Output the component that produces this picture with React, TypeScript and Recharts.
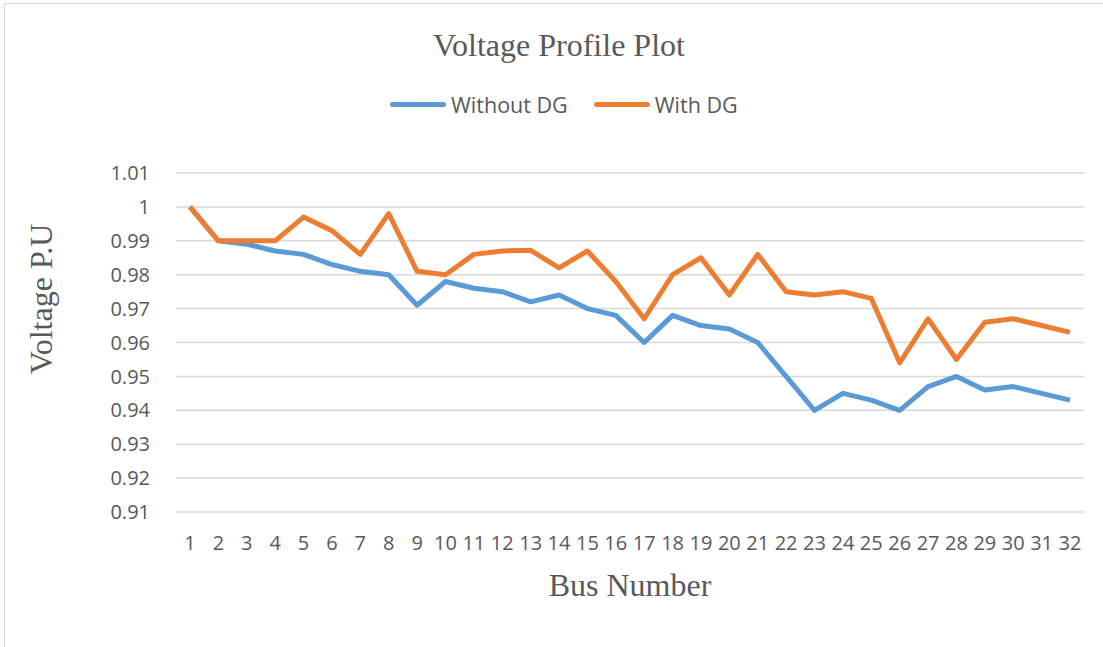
import { LineChart, Line, XAxis, YAxis, CartesianGrid } from 'recharts';

const busNumbers = [
  1, 2, 3, 4, 5, 6, 7, 8, 9, 10, 11, 12, 13, 14, 15, 16,
  17, 18, 19, 20, 21, 22, 23, 24, 25, 26, 27, 28, 29, 30, 31, 32,
];

const withoutDG = [
  1.0, 0.99, 0.989, 0.987, 0.986, 0.983, 0.981, 0.98, 0.971, 0.978, 0.976, 0.975, 0.972, 0.974, 0.97, 0.968,
  0.96, 0.968, 0.965, 0.964, 0.96, 0.95, 0.94, 0.945, 0.943, 0.94, 0.947, 0.95, 0.946, 0.947, 0.945, 0.943,
];

const withDG = [
  1.0, 0.99, 0.99, 0.99, 0.997, 0.993, 0.986, 0.998, 0.981, 0.98, 0.986, 0.987, 0.9872, 0.982, 0.987, 0.978,
  0.967, 0.98, 0.985, 0.974, 0.986, 0.975, 0.974, 0.975, 0.973, 0.954, 0.967, 0.955, 0.966, 0.967, 0.965, 0.963,
];

const yTicks = [0.91, 0.92, 0.93, 0.94, 0.95, 0.96, 0.97, 0.98, 0.99, 1, 1.01];

const BLUE = '#5b9bd5';
const ORANGE = '#ed7d31';
const TEXT = '#595959';
const SERIF = '"Liberation Serif", "Times New Roman", serif';
const SANS = '"Open Sans", "Liberation Sans", sans-serif';

const data = busNumbers.map((bus, i) => ({
  bus: String(bus),
  without: withoutDG[i],
  with: withDG[i],
}));

const legendItems = [
  { label: 'Without DG', color: BLUE },
  { label: 'With DG', color: ORANGE },
];

export default function App() {
  return (
    <div style={{ position: 'absolute', left: 0, top: 0, width: 1103, height: 647, background: '#fff', overflow: 'hidden' }}>
      <div
        style={{
          position: 'absolute',
          left: 4,
          top: 3,
          width: 1110,
          height: 660,
          border: '1.5px solid #d9d9d9',
          boxSizing: 'border-box',
        }}
      />
      <LineChart
        width={1103}
        height={647}
        data={data}
        margin={{ top: 173, right: 19, bottom: 105, left: 0 }}
        style={{ position: 'absolute', left: 0, top: 0 }}
      >
        <CartesianGrid horizontal vertical={false} stroke="#d9d9d9" strokeWidth={1.5} />
        <XAxis
          dataKey="bus"
          height={30}
          interval={0}
          padding={{ left: 14, right: 14 }}
          axisLine={false}
          tickLine={false}
          tickMargin={18}
          tick={{ fill: TEXT, fontSize: 20, fontFamily: SANS }}
        />
        <YAxis
          width={176}
          domain={[0.91, 1.01]}
          ticks={yTicks}
          interval={0}
          axisLine={false}
          tickLine={false}
          tickMargin={20}
          tick={{ fill: TEXT, fontSize: 20, fontFamily: SANS }}
        />
        <Line
          type="linear"
          dataKey="without"
          name="Without DG"
          stroke={BLUE}
          strokeWidth={5}
          strokeLinejoin="round"
          dot={false}
          activeDot={false}
          isAnimationActive={false}
        />
        <Line
          type="linear"
          dataKey="with"
          name="With DG"
          stroke={ORANGE}
          strokeWidth={5}
          strokeLinejoin="round"
          dot={false}
          activeDot={false}
          isAnimationActive={false}
        />
      </LineChart>

      {/* title */}
      <div
        style={{
          position: 'absolute',
          top: 29,
          left: 359,
          width: 400,
          textAlign: 'center',
          fontFamily: SERIF,
          fontSize: 32,
          lineHeight: '32px',
          color: TEXT,
        }}
      >
        Voltage Profile Plot
      </div>

      {/* legend */}
      <div
        style={{
          position: 'absolute',
          top: 89,
          left: 390,
          height: 30,
          display: 'flex',
          alignItems: 'center',
          fontFamily: SANS,
          fontSize: 21.5,
          color: TEXT,
        }}
      >
        {legendItems.map((it, i) => (
          <div key={it.label} style={{ display: 'flex', alignItems: 'center', marginLeft: i === 0 ? 0 : 26 }}>
            <div style={{ width: 56, height: 5, borderRadius: 3, background: it.color, marginRight: 5 }} />
            <span>{it.label}</span>
          </div>
        ))}
      </div>

      {/* y axis title */}
      <div
        style={{
          position: 'absolute',
          left: 41 - 150,
          top: 299 - 16,
          width: 300,
          height: 32,
          textAlign: 'center',
          fontFamily: SERIF,
          fontSize: 32,
          lineHeight: '32px',
          color: TEXT,
          transform: 'rotate(-90deg)',
        }}
      >
        Voltage P.U
      </div>

      {/* x axis title */}
      <div
        style={{
          position: 'absolute',
          left: 630 - 150,
          top: 585 - 16,
          width: 300,
          height: 32,
          textAlign: 'center',
          fontFamily: SERIF,
          fontSize: 32,
          lineHeight: '32px',
          color: TEXT,
        }}
      >
        Bus Number
      </div>
    </div>
  );
}
